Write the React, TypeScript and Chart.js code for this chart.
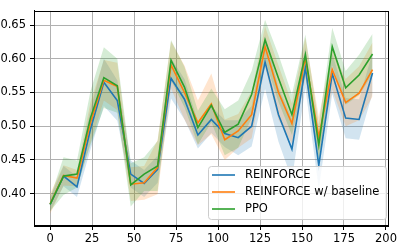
import React, { useEffect, useRef } from "react";
import { Chart, registerables } from "chart.js";

Chart.register(...registerables);

const steps = [0, 8, 16, 24, 32, 40, 48, 56, 64, 72, 80, 88, 96, 104, 112, 120, 128, 136, 144, 152, 160, 168, 176, 184, 192];

const reinforce = [0.384, 0.426, 0.410, 0.495, 0.565, 0.538, 0.429, 0.415, 0.436, 0.571, 0.540, 0.487, 0.510, 0.489, 0.483, 0.500, 0.595, 0.517, 0.466, 0.587, 0.442, 0.578, 0.512, 0.510, 0.579];
const reinforceStd = [0.010, 0.015, 0.015, 0.030, 0.035, 0.030, 0.020, 0.020, 0.020, 0.030, 0.030, 0.020, 0.020, 0.020, 0.026, 0.030, 0.040, 0.040, 0.045, 0.030, 0.035, 0.030, 0.030, 0.030, 0.030];

const baseline = [0.385, 0.427, 0.423, 0.505, 0.568, 0.559, 0.414, 0.416, 0.439, 0.591, 0.550, 0.505, 0.533, 0.480, 0.493, 0.517, 0.618, 0.550, 0.504, 0.601, 0.484, 0.584, 0.535, 0.549, 0.584];
const baselineStd = [0.015, 0.015, 0.012, 0.030, 0.030, 0.035, 0.025, 0.025, 0.040, 0.035, 0.040, 0.033, 0.045, 0.030, 0.025, 0.035, 0.030, 0.040, 0.030, 0.030, 0.030, 0.030, 0.035, 0.040, 0.040];

const ppo = [0.384, 0.426, 0.429, 0.512, 0.572, 0.560, 0.413, 0.429, 0.441, 0.598, 0.558, 0.498, 0.531, 0.491, 0.503, 0.547, 0.628, 0.571, 0.517, 0.606, 0.472, 0.618, 0.557, 0.576, 0.607];
const ppoStd = [0.010, 0.028, 0.020, 0.040, 0.045, 0.040, 0.032, 0.025, 0.037, 0.030, 0.030, 0.025, 0.025, 0.034, 0.035, 0.035, 0.030, 0.035, 0.030, 0.030, 0.030, 0.028, 0.025, 0.030, 0.030];

const seriesNames = ["REINFORCE", "REINFORCE w/ baseline", "PPO"];
const seriesColors = ["#1f77b4", "#ff7f0e", "#2ca02c"];
const bandColors = ["rgba(31,119,180,0.2)", "rgba(255,127,14,0.2)", "rgba(44,160,44,0.2)"];

const xTicks = [0, 25, 50, 75, 100, 125, 150, 175, 200];
const yTicks = [0.40, 0.45, 0.50, 0.55, 0.60, 0.65];

const FONT = "DejaVu Sans";
const FS = 11.5;

export default function App() {
  const ref = useRef<HTMLCanvasElement | null>(null);

  useEffect(() => {
    const canvas = ref.current;
    if (!canvas) return;
    const means = [reinforce, baseline, ppo];
    const stds = [reinforceStd, baselineStd, ppoStd];
    const pts = (arr: number[]) => steps.map((s, i) => ({ x: s, y: arr[i] }));

    const datasets: any[] = [];
    means.forEach((m, k) => {
      const up = m.map((v, i) => v + stds[k][i]);
      const lo = m.map((v, i) => v - stds[k][i]);
      datasets.push({
        data: pts(up),
        borderWidth: 0,
        borderColor: "transparent",
        pointRadius: 0,
        fill: "+1",
        backgroundColor: bandColors[k],
        order: 10 + (2 - k) * 2,
        tension: 0,
      });
      datasets.push({
        data: pts(lo),
        borderWidth: 0,
        borderColor: "transparent",
        pointRadius: 0,
        fill: false,
        order: 10 + (2 - k) * 2 + 1,
        tension: 0,
      });
    });
    means.forEach((m, k) => {
      datasets.push({
        label: seriesNames[k],
        data: pts(m),
        borderColor: seriesColors[k],
        borderWidth: 1.6,
        pointRadius: 0,
        fill: false,
        order: 2 - k,
        tension: 0,
      });
    });

    const frame = {
      id: "frame",
      afterDatasetsDraw(chart: any) {
        const { ctx, chartArea: a } = chart;
        ctx.save();
        ctx.strokeStyle = "#000";
        ctx.lineWidth = 1;
        ctx.strokeRect(Math.round(a.left) + 0.5, Math.round(a.top) + 0.5, Math.round(a.right - a.left) - 1, Math.round(a.bottom - a.top) - 1);
        ctx.restore();
      },
      afterDraw(chart: any) {
        const ctx = chart.ctx;
        ctx.save();
        const bx = 208.5, by = 166.5, bw = 178, bh = 53, r = 3;
        ctx.beginPath();
        ctx.moveTo(bx + r, by);
        ctx.lineTo(bx + bw - r, by);
        ctx.quadraticCurveTo(bx + bw, by, bx + bw, by + r);
        ctx.lineTo(bx + bw, by + bh - r);
        ctx.quadraticCurveTo(bx + bw, by + bh, bx + bw - r, by + bh);
        ctx.lineTo(bx + r, by + bh);
        ctx.quadraticCurveTo(bx, by + bh, bx, by + bh - r);
        ctx.lineTo(bx, by + r);
        ctx.quadraticCurveTo(bx, by, bx + r, by);
        ctx.closePath();
        ctx.fillStyle = "rgba(255,255,255,0.8)";
        ctx.fill();
        ctx.strokeStyle = "#cccccc";
        ctx.lineWidth = 1;
        ctx.stroke();
        const rows = [175, 192, 209];
        ctx.font = `${FS}px "${FONT}"`;
        ctx.textBaseline = "middle";
        ctx.textAlign = "left";
        seriesNames.forEach((name, k) => {
          ctx.strokeStyle = seriesColors[k];
          ctx.lineWidth = 1.6;
          ctx.beginPath();
          ctx.moveTo(212, rows[k]);
          ctx.lineTo(235, rows[k]);
          ctx.stroke();
          ctx.fillStyle = "#000";
          ctx.fillText(name, 245, rows[k] + 0.5);
        });
        ctx.restore();
      },
    };

    const chart = new Chart(canvas, {
      type: "line",
      data: { datasets },
      plugins: [frame],
      options: {
        animation: false,
        responsive: false,
        maintainAspectRatio: false,
        layout: { padding: { top: 1, right: 7, left: 0, bottom: 0 } },
        plugins: { legend: { display: false }, tooltip: { enabled: false } },
        scales: {
          x: {
            type: "linear",
            min: -9.6,
            max: 201.6,
            afterFit: (s: any) => { s.height = 20; },
            afterBuildTicks: (s: any) => { s.ticks = xTicks.map((v) => ({ value: v })); },
            ticks: {
              callback: (v: any) => String(v),
              font: { family: FONT, size: FS },
              color: "#000",
              padding: 2,
              maxRotation: 0,
              autoSkip: false,
            },
            grid: { color: "#b0b0b0", lineWidth: 1, tickLength: 4, tickColor: "#000" },
            border: { color: "#000", width: 1 },
          },
          y: {
            min: 0.352,
            max: 0.671,
            afterFit: (s: any) => { s.width = 34; },
            afterBuildTicks: (s: any) => { s.ticks = yTicks.map((v) => ({ value: v })); },
            ticks: {
              callback: (v: any) => Number(v).toFixed(2),
              font: { family: FONT, size: FS },
              color: "#000",
              padding: 4,
              autoSkip: false,
            },
            grid: { color: "#b0b0b0", lineWidth: 1, tickLength: 4, tickColor: "#000" },
            border: { color: "#000", width: 1 },
          },
        },
      },
    } as any);
    return () => chart.destroy();
  }, []);

  return (
    <div style={{ position: "fixed", left: 0, top: 0, width: 399, height: 246, background: "#fff" }}>
      <canvas ref={ref} width={399} height={246} style={{ width: 399, height: 246, display: "block" }} />
    </div>
  );
}
